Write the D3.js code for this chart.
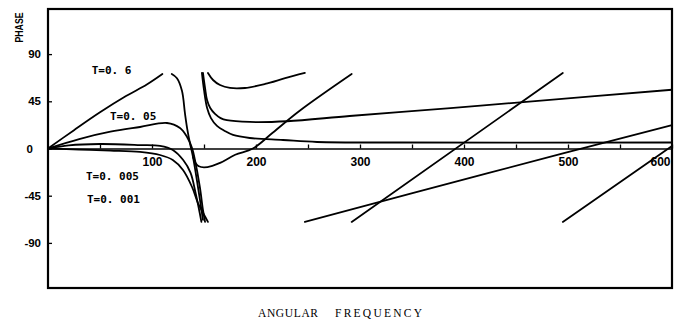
<!DOCTYPE html>
<html><head><meta charset="utf-8">
<script src="https://cdn.jsdelivr.net/npm/d3@7"></script>
<style>
html,body{margin:0;padding:0;background:#fff;}
svg{display:block;}
</style></head>
<body>
<svg id="chart" width="679" height="322"></svg>
<script>
// ---- data (angular frequency, phase in degrees) ----
const xTickValues = [50,100,150,200,250,300,350,400,450,500,550,600];
const xTickLabels = ["","100","","200","","300","","400","","500","","600"];
const yTickValues = [90,45,0,-45,-90];
const yTickLabels = ["90","45","0","-45","-90"];
const curveLabels = ["T=0. 6","T=0. 05","T=0. 005","T=0. 001"];
const curveLabelAnchors = [[42,71.5],[59.6,27.6],[36.5,-29.6],[37.5,-52.4]];

const seriesT06Rise = [[0,0],[25,17.5],[50,34.5],[75,50],[95,61],[110,71]];
const seriesT06Fall = [[119,71],[124,67],[128.8,55],[131.7,33.4],[134,18],[136.5,5],[139.4,-8],[144.2,-36.7],[149,-68]];
const seriesT005 = [[0,0],[30,9],[60,16],[88.5,20.5],[114.4,24.3],[126.9,19.5],[133.7,11],[138.5,0.5],[141.3,-11],[146,-36.7],[149,-58.6],[151,-70]];
const seriesT0005 = [[0,0],[20,3],[50,4.3],[88.5,3.3],[107.7,2.4],[120,-1.4],[130,-11],[137,-23],[141.8,-42],[146,-62],[147.5,-70]];
const seriesT0001 = [[0,0],[30,-1],[60,-2],[88.5,-3.3],[107.7,-6.2],[120,-11],[129.8,-20.5],[138.5,-36.7],[144.2,-52],[150,-63],[153.8,-70]];
const seriesDip = [[139.4,-8],[142,-14],[145,-17],[150,-18],[158,-16.5],[166,-13.5],[180,-6],[197,0],[216,15],[242,36],[292,71]];
const seriesUpper = [[153.8,72],[158.7,65.3],[165.4,60.5],[175,57.7],[189.4,57.7],[208.7,61.5],[228,67],[247,72]];
const seriesMiddle = [[149,72],[151,57.7],[153,46],[156,38.6],[160.6,33],[166,29],[172,27],[194,25.3],[230,26],[290,31],[387,38.5],[454,44],[600,56]];
const seriesLow = [[148,72],[150,55.8],[153,38.6],[156.7,29],[162.5,21.5],[170,16.7],[177.9,12.9],[194,10],[226,8.1],[258.7,6.2],[338,5.7],[600,5.7]];
const seriesLine1 = [[292,-70],[495,72]];
const seriesLine2 = [[247,-70],[423,-23.5],[600,22.4]];
const seriesLine3 = [[495,-70],[600,2.4]];

const allSeries = [seriesT06Rise, seriesT06Fall, seriesT005, seriesT0005, seriesT0001,
  seriesDip, seriesUpper, seriesMiddle, seriesLow, seriesLine1, seriesLine2, seriesLine3];

// ---- drawing ----
const svg = d3.select("#chart");
const x = d3.scaleLinear().domain([0,600]).range([48,672]);
const y = d3.scaleLinear().domain([-133,133]).range([288,9]);

// frame
svg.append("rect")
  .attr("x", x(0)).attr("y", y(133))
  .attr("width", x(600)-x(0)).attr("height", y(-133)-y(133))
  .attr("fill","none").attr("stroke","#000").attr("stroke-width",2.2);

// x axis on the zero line
const xAxis = d3.axisBottom(x)
  .tickValues(xTickValues)
  .tickFormat((d,i)=>xTickLabels[i])
  .tickSizeInner(-4).tickSizeOuter(0).tickPadding(9);
const gx = svg.append("g").attr("transform",`translate(0,${y(0)})`).call(xAxis);
gx.select(".domain").attr("stroke","#000").attr("stroke-width",1.6);
gx.selectAll(".tick line").attr("stroke","#000").attr("stroke-width",1.3);
gx.selectAll(".tick text").attr("font-family","'Liberation Sans', Arial, sans-serif")
  .attr("font-weight","bold").attr("font-size",12).attr("fill","#000");
gx.selectAll(".tick").filter(d=>d===600).select("text")
  .attr("text-anchor","end").attr("x",-2);

// y axis on the left edge
const yAxis = d3.axisLeft(y)
  .tickValues(yTickValues)
  .tickFormat((d,i)=>yTickLabels[i])
  .tickSizeInner(-4).tickSizeOuter(0).tickPadding(7);
const gy = svg.append("g").attr("transform",`translate(${x(0)},0)`).call(yAxis);
gy.select(".domain").remove();
gy.selectAll(".tick line").attr("stroke","#000").attr("stroke-width",1.3);
gy.selectAll(".tick text").attr("font-family","'Liberation Sans', Arial, sans-serif")
  .attr("font-weight","bold").attr("font-size",11.5).attr("fill","#000");
gy.selectAll(".tick").filter(d=>d===0).select("text").attr("x",-15);

// curves
const line = d3.line().x(d=>x(d[0])).y(d=>y(d[1])).curve(d3.curveCatmullRom.alpha(0.5));
svg.append("g").selectAll("path").data(allSeries).join("path")
  .attr("d", line).attr("fill","none").attr("stroke","#000")
  .attr("stroke-width",1.8).attr("stroke-linejoin","round").attr("stroke-linecap","round");

// curve labels
svg.append("g").selectAll("text").data(curveLabels).join("text")
  .attr("x",(d,i)=>x(curveLabelAnchors[i][0]))
  .attr("y",(d,i)=>y(curveLabelAnchors[i][1]))
  .attr("font-family","'DejaVu Sans Mono', monospace")
  .attr("font-weight","bold").attr("font-size",11).attr("fill","#000")
  .text(d=>d);

// axis titles
svg.append("text")
  .attr("transform","translate(23,27.5) rotate(-90)")
  .attr("text-anchor","middle")
  .attr("font-family","'Liberation Sans', Arial, sans-serif")
  .attr("font-weight","bold").attr("font-size",11).attr("fill","#000")
  .attr("textLength",30).attr("lengthAdjust","spacingAndGlyphs")
  .text("PHASE");

const xt = svg.append("text").attr("y",317)
  .attr("font-family","'Liberation Serif', serif")
  .attr("font-size",11.5).attr("fill","#000");
xt.append("tspan").attr("x",258).attr("textLength",60).attr("lengthAdjust","spacing").text("ANGULAR");
xt.append("tspan").attr("x",335).attr("textLength",87).attr("lengthAdjust","spacing").text("FREQUENCY");
</script>
</body></html>
